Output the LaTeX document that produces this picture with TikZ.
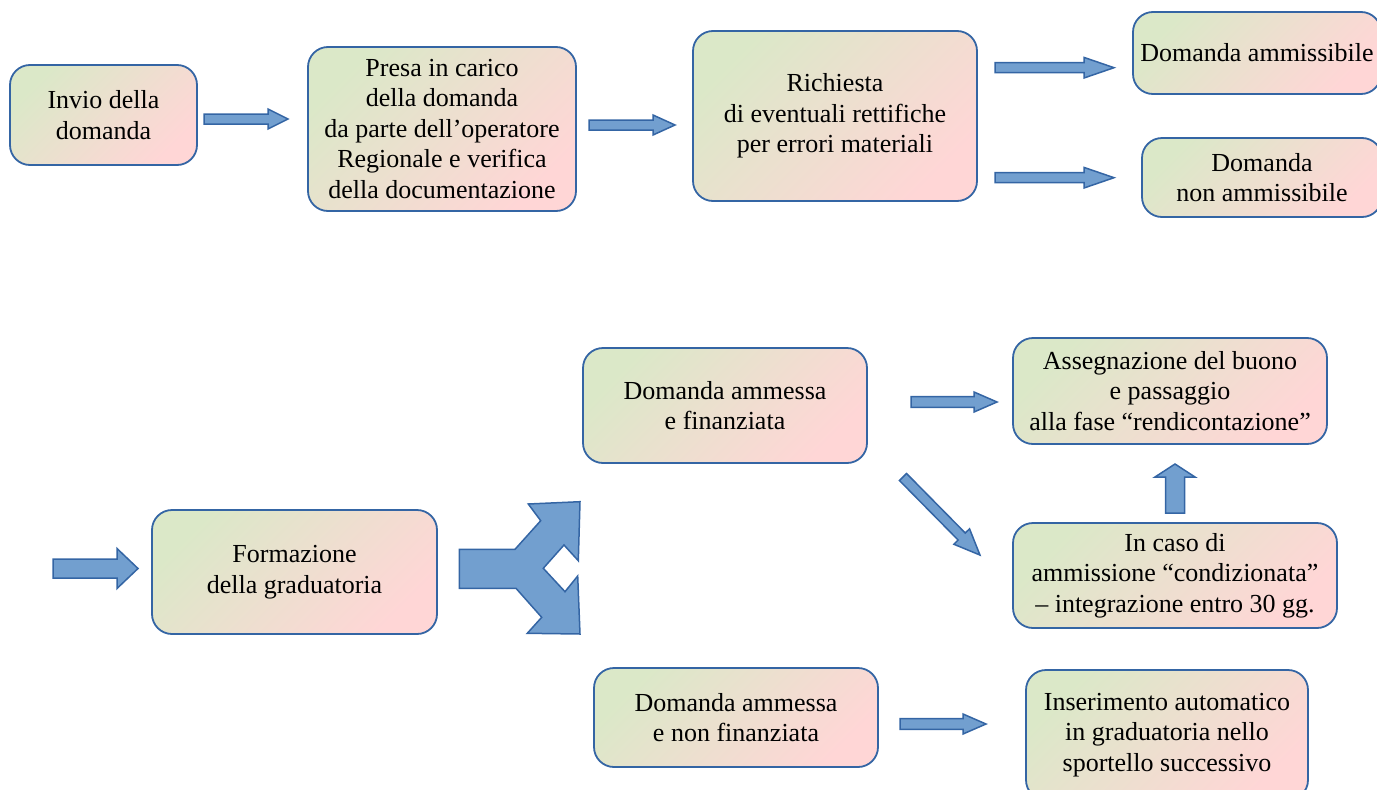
\documentclass[tikz,border=0pt]{standalone}
\usepackage{fontspec}
\setmainfont{Liberation Serif}
\definecolor{bord}{RGB}{52,101,164}
\definecolor{afill}{RGB}{114,159,207}
\definecolor{gA}{RGB}{219,232,200}
\definecolor{gB}{RGB}{255,214,214}
\tikzset{
  box/.style={draw=bord, line width=1.8pt, rounded corners=20pt,
    top color=gA, bottom color=gB, shading angle=45,
    align=center, inner sep=0pt,
    font=\fontsize{26}{30.5}\selectfont},
  arr/.style={draw=bord, fill=afill, line width=1.5pt, line join=miter},
  pics/barrow/.style args={#1/#2/#3/#4}{code={
    \draw[arr] (0,-#2)--({#1-#4},-#2)--({#1-#4},-#3)--(#1,0)--({#1-#4},#3)--({#1-#4},#2)--(0,#2)--cycle;}}
}
\begin{document}
\begin{tikzpicture}[x=1pt,y=-1pt]
\useasboundingbox (0,0) rectangle (1377,790);
% boxes
\node[box, minimum width=187pt, minimum height=100pt] (invio) at (103.5,115) {Invio della\\domanda};
\node[box, minimum width=268pt, minimum height=164pt] (presa) at (442,129) {Presa in carico\\della domanda\\da parte dell’operatore\\Regionale e verifica\\della documentazione};
\node[box, minimum width=284pt, minimum height=170pt] (rich) at (835,116) {Richiesta\\di eventuali rettifiche\\per errori materiali};
\node[box, minimum width=248pt, minimum height=82pt] (amm) at (1257,53) {Domanda ammissibile};
\node[box, minimum width=240pt, minimum height=79pt] (nonamm) at (1262,177.5) {Domanda\\non ammissibile};
\node[box, minimum width=284pt, minimum height=115pt] (fin) at (725,405.5) {Domanda ammessa\\e finanziata};
\node[box, minimum width=314pt, minimum height=106pt] (asse) at (1170,391) {Assegnazione del buono\\e passaggio\\alla fase “rendicontazione”};
\node[box, minimum width=324pt, minimum height=105pt] (caso) at (1175,575.5) {In caso di\\ammissione “condizionata”\\ – integrazione entro 30 gg.};
\node[box, minimum width=285pt, minimum height=124pt] (form) at (294.5,572) {Formazione\\della graduatoria};
\node[box, minimum width=284pt, minimum height=99pt] (nonfin) at (736,717.5) {Domanda ammessa\\e non finanziata};
\node[box, minimum width=282pt, minimum height=130pt] (ins) at (1167,735) {Inserimento automatico\\in graduatoria nello\\sportello successivo};
% block arrows
\pic (a1) at (204,119) {barrow=84/5/10/20};
\pic (a2) at (589,125) {barrow=86/5/10/22};
\pic (a3) at (995,67.7) {barrow=119/5/10.3/30};
\pic (a4) at (995,177.7) {barrow=119/5/10.3/30};
\pic (a5) at (911,402) {barrow=86/5.3/10/23};
\pic (a6) at (900,724) {barrow=86/5.3/10/23};
\pic (a7) at (53,568.5) {barrow=85/9.5/20/21};
\pic[rotate=-45.4] (a8) at (903,477) {barrow=109.6/5/11/26};
\pic[rotate=90] (a9) at (1175,513) {barrow=49/9.5/20/13};
% split arrow
\draw[arr] (459.3,549.3) -- (515,549.3) -- (540.7,520.7) -- (528.3,504) -- (580,501.7)
  -- (578.3,560.7) -- (564,545) -- (543.3,568.3) -- (565,591.7) -- (577.7,576)
  -- (580,634) -- (527.3,633.3) -- (541.7,617.3) -- (516,588.3) -- (459.3,588.3) -- cycle;
\end{tikzpicture}
\end{document}
